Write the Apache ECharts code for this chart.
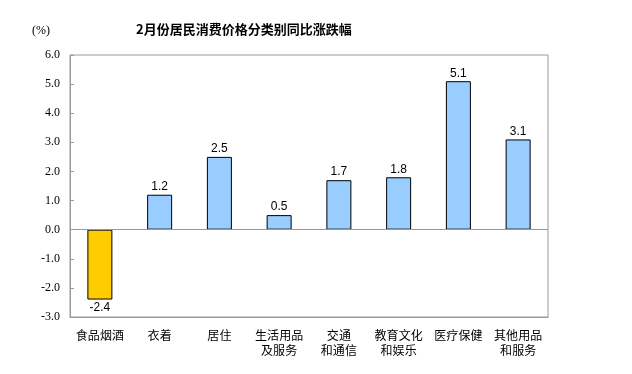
<!DOCTYPE html>
<html><head><meta charset="utf-8">
<script src="https://cdn.jsdelivr.net/npm/echarts@6/dist/echarts.min.js"></script>
<style>html,body{margin:0;padding:0;background:#fff}#c{width:632px;height:374px}</style>
</head><body><div id="c"></div>
<script>
const categories = ['食品烟酒','衣着','居住','生活用品\n及服务','交通\n和通信','教育文化\n和娱乐','医疗保健','其他用品\n和服务'];
const values = [-2.4, 1.2, 2.5, 0.5, 1.7, 1.8, 5.1, 3.1];
const colors = ['#FFCC00','#99CCFF','#99CCFF','#99CCFF','#99CCFF','#99CCFF','#99CCFF','#99CCFF'];
const chart = echarts.init(document.getElementById('c'));
chart.setOption({
  animation: false,
  title: [{
    text: '2月份居民消费价格分类别同比涨跌幅', left: 131, top: 18,
    textStyle: {fontFamily: 'Noto Sans CJK SC', fontSize: 13, fontWeight: 'bold', color: '#000'}
  }, {
    text: '(%)', left: 27, top: 20,
    textStyle: {fontFamily: 'Liberation Serif', fontSize: 12, fontWeight: 'normal', color: '#000'}
  }],
  grid: {left: 70, top: 55, right: 84, bottom: 57, show: true, borderColor: '#999', borderWidth: 1},
  xAxis: {
    type: 'category', data: categories,
    axisLine: {show: true, onZero: false, lineStyle: {color: '#999'}},
    axisTick: {show: false},
    axisLabel: {interval: 0, color: '#000', fontFamily: 'Noto Sans CJK SC', fontSize: 12, lineHeight: 15, margin: 11}
  },
  yAxis: {
    type: 'value', min: -3, max: 6, interval: 1,
    axisLine: {show: true, lineStyle: {color: '#999'}},
    axisTick: {show: true, inside: true, length: 4, lineStyle: {color: '#999'}},
    splitLine: {show: false},
    axisLabel: {color: '#000', fontFamily: 'Liberation Serif', fontSize: 12, margin: 10, formatter: v => v.toFixed(1)}
  },
  series: [{
    type: 'bar', barWidth: 25,
    data: values.map((v, i) => ({value: v, itemStyle: {color: colors[i]},
      label: v < 0 ? {position: 'bottom'} : {}})),
    itemStyle: {borderColor: '#000', borderWidth: 1},
    label: {show: true, position: 'top', distance: 2, color: '#000', fontFamily: 'Liberation Sans', fontSize: 12,
      formatter: p => p.value.toFixed(1)},
    markLine: {
      silent: true, symbol: 'none', label: {show: false},
      lineStyle: {color: '#999', type: 'solid', width: 1},
      data: [{yAxis: 0}]
    }
  }]
});
</script></body></html>
